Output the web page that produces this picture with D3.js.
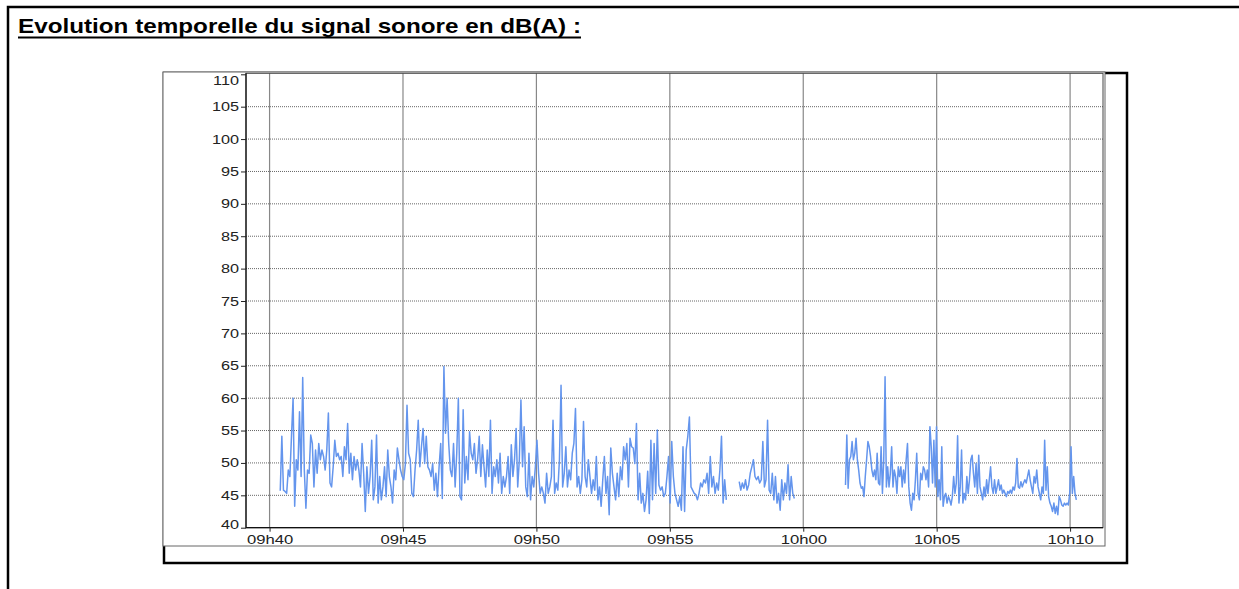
<!DOCTYPE html>
<html>
<head>
<meta charset="utf-8">
<script src="https://cdn.jsdelivr.net/npm/d3@7"></script>
<style>
  body { margin: 0; background: #fff; }
  svg { display: block; font-family: "Liberation Sans", Arial, sans-serif; }
</style>
</head>
<body>
<div id="chart"></div>
<script>
// Sound level readings, dB(A) (three runs with gaps)
const seg1Start = "09:40:24", seg1End = "09:57:07";
const seg1Values = [
  45.7,54.1,45.8,45.6,45.3,48.9,47.9,54.1,60.0,43.3,50.5,48.9,57.9,47.9,63.2,48.9,43.0,48.9,48.4,54.3,
  53.0,46.3,52.0,48.4,53.0,50.5,52.0,51.0,48.9,52.0,57.7,46.9,46.3,49.4,53.5,51.0,51.5,50.5,51.0,47.9,
  52.5,50.5,56.1,48.4,51.5,47.4,51.0,48.9,50.5,48.9,46.3,53.0,48.4,42.5,49.4,45.3,47.9,53.5,44.3,46.3,
  54.3,43.8,47.9,44.3,46.3,49.4,44.8,52.0,47.9,46.3,43.8,48.9,47.4,52.3,50.5,48.9,47.9,47.4,49.9,58.9,
  51.5,50.5,45.3,44.8,48.9,52.0,56.6,49.4,52.5,55.3,49.9,54.1,49.4,48.9,47.9,49.9,45.8,48.4,44.8,49.4,
  53.0,44.5,64.9,54.6,60.0,53.0,48.9,47.9,53.0,46.3,51.5,60.0,44.8,
  44.3,58.2,46.9,51.0,47.4,54.8,51.5,50.5,53.0,48.4,50.5,54.1,47.9,52.8,49.4,46.3,52.0,47.9,56.6,45.3,
  49.4,47.9,50.5,46.9,51.5,45.3,47.9,46.3,47.9,51.0,45.3,52.8,47.9,50.5,55.3,46.3,50.5,59.7,49.4,55.6,
  46.3,44.8,51.5,44.3,47.9,46.3,49.4,53.5,48.4,45.3,46.3,45.3,43.8,48.4,45.3,46.3,47.9,56.6,45.3,46.9,
  45.8,50.5,62.0,46.3,48.4,52.5,46.3,48.9,47.4,51.5,53.0,58.4,46.3,47.9,45.3,47.4,56.4,47.9,46.3,50.5,
  47.9,45.3,47.4,45.8,51.0,44.3,46.3,43.3,47.4,51.0,45.3,47.9,42.0,52.3,48.4,46.3,44.3,48.4,44.8,49.4,
  47.4,52.5,50.5,53.0,46.3,53.8,52.5,52.3,49.9,56.1,44.3,48.4,43.8,45.3,42.5,44.3,
  48.7,42.2,53.5,44.3,53.0,45.3,55.1,46.6,45.8,46.3,44.8,45.3,47.9,51.0,43.8,53.3,47.9,45.3,44.3,43.3,
  44.8,42.7,52.5,42.5,52.0,54.1,57.1,46.3,45.8,45.3,45.1,44.3,45.3,46.9,46.3,47.4,46.9,48.4,45.3,51.0,
  46.3,47.9,45.3,46.9,45.8,48.9,54.1,43.8,47.4,44.3
];

const seg2Start = "09:57:36", seg2End = "09:59:40";
const seg2Values = [
  47.1,45.8,46.9,46.1,47.4,45.8,46.6,48.4,49.4,50.5,47.9,47.4,47.9,46.9,47.4,53.3,46.3,47.4,56.6,45.8,
  45.3,48.4,44.3,47.9,43.8,45.3,42.7,47.4,44.3,46.9,45.3,49.7,44.3,47.9,45.3,44.5
];

const seg3Start = "10:01:35", seg3End = "10:10:14";
const seg3Values = [
  46.6,54.3,46.1,50.5,51.0,53.3,50.5,51.5,53.8,50.5,48.9,46.9,46.1,46.3,44.8,47.9,50.5,53.3,52.5,51.0,
  48.9,47.9,48.9,47.4,51.5,46.9,46.6,52.5,45.3,50.5,63.3,46.3,49.4,46.3,48.4,52.5,46.3,48.9,47.9,45.3,
  49.4,47.9,49.4,46.3,48.9,46.9,50.5,53.0,46.3,43.8,42.7,45.3,44.3,47.4,51.5,45.3,44.3,48.4,47.4,49.4,
  48.9,47.4,48.9,46.3,55.6,52.5,46.9,53.5,46.3,55.6,44.8,47.4,44.3,52.5,43.3,44.8,45.3,43.8,44.8,44.3,
  43.5,44.8,47.9,45.3,46.9,54.2,43.8,46.3,52.0,43.8,45.3,44.3,47.9,45.3,47.4,50.5,51.2,48.4,46.3,49.9,
  45.3,51.2,46.3,45.3,44.3,46.3,44.8,47.4,45.3,47.4,49.4,46.3,45.3,47.4,45.3,46.3,47.4,45.8,46.6,45.3,
  45.8,45.3,44.8,45.6,45.3,45.8,45.3,46.3,45.8,46.9,50.7,46.3,46.1,47.1,46.3,46.9,47.4,46.9,47.9,48.9,
  47.4,46.3,45.3,47.9,46.9,48.9,46.3,45.3,44.3,46.3,45.3,53.5,45.8,49.4,44.8,43.8,43.3,42.5,43.8,42.2,
  43.3,42.0,44.8,44.3,43.5,43.3,43.8,43.5,43.8,43.5,45.3,52.5,45.3,47.9,45.3,44.3
];

const yTicks = [40, 45, 50, 55, 60, 65, 70, 75, 80, 85, 90, 95, 100, 105, 110];
const xTickTimes = ["09:40:00", "09:45:00", "09:50:00", "09:55:00", "10:00:00", "10:05:00", "10:10:00"];
const xDomain = ["09:39:07", "10:11:14"];
const titleText = "Evolution temporelle du signal sonore en dB(A) :";

const parseTime = d3.timeParse("%H:%M:%S");

// build {time, value} rows for one run, samples evenly spaced between start and end
function buildSegment(start, end, values) {
    const t0 = parseTime(start).getTime(), t1 = parseTime(end).getTime();
    const step = (t1 - t0) / (values.length - 1);
    return values.map((v, i) => ({ time: new Date(t0 + i * step), value: v }));
}
const segments = [
    buildSegment(seg1Start, seg1End, seg1Values),
    buildSegment(seg2Start, seg2End, seg2Values),
    buildSegment(seg3Start, seg3End, seg3Values)
];

const W = 1239, H = 589;
const svg = d3.select("#chart").append("svg")
    .attr("width", W)
    .attr("height", H);

// page frame (top and left rules)
svg.append("path")
    .attr("d", `M8,${H} L8,7 L${W},7`)
    .attr("fill", "none")
    .attr("stroke", "#000")
    .attr("stroke-width", 2.5);

// title, underlined
const title = svg.append("text")
    .attr("x", 18)
    .attr("y", 33)
    .attr("font-size", 21)
    .attr("font-weight", "bold")
    .attr("fill", "#000")
    .text(titleText);
title.attr("textLength", 563).attr("lengthAdjust", "spacingAndGlyphs");
svg.append("line")
    .attr("x1", 18).attr("x2", 581)
    .attr("y1", 37.5).attr("y2", 37.5)
    .attr("stroke", "#000")
    .attr("stroke-width", 2);

// chart box with its thick back frame
svg.append("rect")
    .attr("x", 164).attr("y", 73)
    .attr("width", 1127 - 164).attr("height", 563 - 73)
    .attr("fill", "none")
    .attr("stroke", "#000")
    .attr("stroke-width", 2.5);
svg.append("rect")
    .attr("x", 163).attr("y", 72)
    .attr("width", 1105 - 163).attr("height", 546 - 72)
    .attr("fill", "#fff")
    .attr("stroke", "#666")
    .attr("stroke-width", 1);

// plot area
const plot = { left: 246, right: 1103, top: 74.3, bottom: 527.7 };

const x = d3.scaleTime()
    .domain(xDomain.map(parseTime))
    .range([plot.left, plot.right]);
const y = d3.scaleLinear()
    .domain([40, 110])
    .range([plot.bottom, plot.top]);

// horizontal dotted grid
svg.append("g")
    .selectAll("line")
    .data(yTicks.filter(d => d > 40 && d <= 105))
    .join("line")
    .attr("x1", plot.left).attr("x2", plot.right)
    .attr("y1", d => y(d)).attr("y2", d => y(d))
    .attr("stroke", "#666")
    .attr("stroke-dasharray", "1,1")
    .attr("stroke-width", 1);

// vertical grid
const xTicks = xTickTimes.map(parseTime);
svg.append("g")
    .selectAll("line")
    .data(xTicks)
    .join("line")
    .attr("x1", d => x(d)).attr("x2", d => x(d))
    .attr("y1", plot.top - 1).attr("y2", plot.bottom)
    .attr("stroke", "#888")
    .attr("stroke-width", 1.2);

// plot frame
svg.append("rect")
    .attr("x", plot.left).attr("y", plot.top - 1)
    .attr("width", plot.right - plot.left).attr("height", plot.bottom - plot.top + 1)
    .attr("fill", "none")
    .attr("stroke", "#444")
    .attr("stroke-width", 1);
svg.append("path")
    .attr("d", `M${plot.left},${plot.top - 1} L${plot.left},${plot.bottom} L${plot.right},${plot.bottom}`)
    .attr("fill", "none")
    .attr("stroke", "#111")
    .attr("stroke-width", 1.2);

// stretch tick labels a bit, like the exported image
function widen(sel, k) {
    sel.each(function () {
        const w = this.getComputedTextLength();
        d3.select(this).attr("textLength", w * k).attr("lengthAdjust", "spacingAndGlyphs");
    });
}

// Y axis
const yAxis = svg.append("g")
    .attr("transform", `translate(${plot.left},0)`)
    .call(d3.axisLeft(y).tickValues(yTicks).tickSize(5).tickSizeOuter(0).tickPadding(2));
yAxis.select(".domain").remove();
yAxis.selectAll(".tick line").attr("stroke", "#222");
yAxis.selectAll(".tick text")
    .attr("font-size", 12.5)
    .attr("font-family", "Liberation Sans, Arial, sans-serif")
    .attr("fill", "#222")
    .attr("dy", d => d === 110 ? "0.85em" : d === 40 ? "0.05em" : "0.32em")
    .call(widen, 1.3);

// X axis
const xAxis = svg.append("g")
    .attr("transform", `translate(0,${plot.bottom})`)
    .call(d3.axisBottom(x).tickValues(xTicks).tickFormat(d3.timeFormat("%Hh%M")).tickSize(4).tickSizeOuter(0).tickPadding(3));
xAxis.select(".domain").remove();
xAxis.selectAll(".tick line").attr("stroke", "#222");
xAxis.selectAll(".tick text")
    .attr("font-size", 12.5)
    .attr("font-family", "Liberation Sans, Arial, sans-serif")
    .attr("fill", "#222")
    .call(widen, 1.33);

// the sound level line, one path per run
const line = d3.line()
    .x(d => x(d.time))
    .y(d => y(d.value));
svg.append("g")
    .selectAll("path")
    .data(segments)
    .join("path")
    .attr("d", line)
    .attr("fill", "none")
    .attr("stroke", "#6495ED")
    .attr("stroke-width", 1.5)
    .attr("stroke-linejoin", "round");
</script>
</body>
</html>
